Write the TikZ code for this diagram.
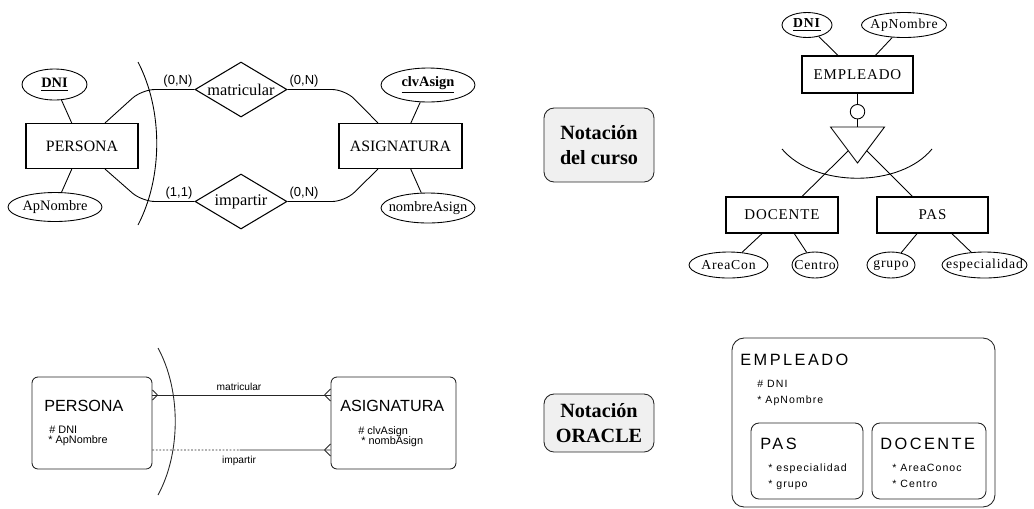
\documentclass[tikz,border=0pt]{standalone}
\usepackage{fontspec}
\setmainfont{Liberation Serif}
\setsansfont{Liberation Sans}
\newfontfamily\curfont[LetterSpace=6]{Liberation Serif}
\newfontfamily\oratit[LetterSpace=15]{Liberation Sans}
\newfontfamily\oraatr[LetterSpace=10]{Liberation Sans}
\usetikzlibrary{shapes.geometric,positioning,calc}
\newcommand\etq[1]{\makebox[0pt]{#1}}
\tikzset{
	% notacion del curso ---------------------------------------
	entidad/.style={draw, line width=0.6pt, inner sep=0pt, minimum height=0.9cm, font=\fontsize{9}{10}\selectfont},
	atributo/.style={draw, ellipse, line width=0.5pt, inner sep=0pt, font=\fontsize{8.2}{9}\selectfont},
	relacion/.style={draw, diamond, line width=0.6pt, inner sep=0pt, aspect=1.67, minimum width=1.84cm, minimum height=1.1cm, font=\fontsize{9.3}{10}\selectfont},
	card/.style={font=\sffamily\fontsize{7.4}{8}\selectfont, inner sep=1pt},
	entc/.style={draw, line width=0.6pt, inner sep=0pt, minimum height=0.74cm, font=\curfont\fontsize{8.5}{9}\selectfont},
	atrc/.style={draw, ellipse, line width=0.5pt, inner sep=0pt, minimum height=0.5cm, font=\curfont\fontsize{7.8}{9}\selectfont},
	lin/.style={line width=0.5pt},
	% notacion ORACLE ------------------------------------------
	caja/.style={draw=black!85, line width=0.5pt, rounded corners=0.12cm},
	linora/.style={draw=black!85, line width=0.5pt},
	tora/.style={anchor=base west, inner sep=0pt, font=\sffamily\fontsize{9.2}{10}\selectfont},
	aora/.style={anchor=base west, inner sep=0pt, font=\sffamily\fontsize{6.2}{7}\selectfont},
	lora/.style={inner sep=0pt, font=\sffamily\fontsize{5.8}{7}\selectfont},
	tsp/.style={anchor=base west, inner sep=0pt, font=\oratit\fontsize{9.3}{10}\selectfont},
	asp/.style={anchor=base west, inner sep=0pt, font=\oraatr\fontsize{6}{7}\selectfont},
	% rotulos ----------------------------------------------------
	nota/.style={draw=black!85, fill=black!6, line width=0.5pt, rounded corners=0.2cm, align=center, inner sep=0pt, font=\bfseries\fontsize{11.5}{14}\selectfont},
}
\begin{document}
\begin{tikzpicture}[x=0.02cm, y=-0.02cm]
	\useasboundingbox (0,0) rectangle (1034,508);

	% ---- notacion del curso: relaciones
	\node[entidad, minimum width=2.24cm] (pers) at (82,146) {PERSONA};
	\node[entidad, minimum width=2.46cm] (asig) at (400.5,146) {ASIGNATURA};
	\node[atributo, minimum width=1.3cm, minimum height=0.62cm] (dni) at (54.5,84.5) {\etq{\underline{\textbf{DNI}}}};
	\node[atributo, minimum width=1.88cm, minimum height=0.58cm] (apn) at (55,207) {\etq{ApNombre}};
	\node[atributo, minimum width=1.88cm, minimum height=0.68cm] (clv) at (428,85) {\etq{\underline{\textbf{clvAsign}}}};
	\node[atributo, minimum width=1.88cm, minimum height=0.6cm] (nom) at (428,208) {\etq{nombreAsign}};
	\node[relacion] (mat) at (241,89.5) {matricular};
	\node[relacion] (imp) at (241,201.5) {impartir};
	\node[card, anchor=south east] (c1) at (mat.west) {(0,N)};
	\node[card, anchor=south west] (c2) at (mat.east) {(0,N)};
	\node[card, anchor=south east] (c3) at (imp.west) {(1,1)};
	\node[card, anchor=south west] (c4) at (imp.east) {(0,N)};
	\draw[lin] (dni) -- (pers) (apn) -- (pers) (clv) -- (asig) (nom) -- (asig);
	\draw[lin, rounded corners=0.26cm] ($(pers.north)+(23,0)$) -- (142,89.5) -- (mat.west);
	\draw[lin, rounded corners=0.26cm] (mat.east) -- (345,89.5) -- ($(asig.north)+(-22.5,0)$);
	\draw[lin, rounded corners=0.26cm] ($(pers.south)+(23,0)$) -- (142,201.5) -- (imp.west);
	\draw[lin, rounded corners=0.26cm] (imp.east) -- (345,201.5) -- ($(asig.south)+(-22.5,0)$);
	\draw[lin] (138,62) .. controls (163,110) and (163,177) .. (138,225);

	% ---- notacion del curso: jerarquia
	\node[entc, minimum width=2.22cm] (emp) at (857.5,74.5) {EMPLEADO};
	\node[atrc, minimum width=1cm] (dni2) at (807,25) {\etq{\underline{\textbf{DNI}}}};
	\node[atrc, minimum width=1.7cm] (apn2) at (904,25) {\etq{ApNombre}};
	\node[draw, circle, lin, minimum size=0.29cm, inner sep=0pt] (disj) at (857.5,111.7) {};
	\coordinate (tl) at (830.5,127);
	\coordinate (tr) at (884.5,127);
	\coordinate (tb) at (857.5,163);
	\draw[lin] (tl) -- (tr) -- (tb) -- cycle;
	\node[entc, minimum width=2.24cm, minimum height=0.72cm] (doc) at (782,215) {DOCENTE};
	\node[entc, minimum width=2.22cm, minimum height=0.72cm] (pas) at (932.5,215) {PAS};
	\node[atrc, minimum width=1.58cm, minimum height=0.52cm] (area) at (728.5,265) {\etq{AreaCon}};
	\node[atrc, minimum width=0.92cm, minimum height=0.52cm] (cen) at (815,265) {\etq{Centro}};
	\node[atrc, minimum width=0.96cm, minimum height=0.52cm] (gru) at (891,265) {\etq{grupo}};
	\node[atrc, minimum width=1.7cm, minimum height=0.52cm] (esp) at (984.5,265) {\etq{especialidad}};
	\draw[lin] (dni2) -- (emp) (apn2) -- (emp);
	\draw[lin] (emp.south) -- (disj.north) (disj.south) -- ($(tl)!0.5!(tr)$);
	\draw[lin] ($(tl)!0.66!(tb)$) -- ($(doc.north)+(20,0)$);
	\draw[lin] ($(tr)!0.66!(tb)$) -- ($(pas.north)+(-20,0)$);
	\draw[lin] (782,149) .. controls (815,188) and (900,188) .. (932,149);
	\draw[lin] (area) -- (doc) (cen) -- (doc) (gru) -- (pas) (esp) -- (pas);

	% ---- rotulos
	\node[nota, minimum width=2.2cm, minimum height=1.48cm] (ncur) at (599,145) {Notación\\del curso};
	\node[nota, minimum width=2.2cm, minimum height=1.16cm] (nora) at (599,423) {Notación\\ORACLE};

	% ---- notacion ORACLE: relaciones
	\node[caja, minimum width=2.4cm, minimum height=1.84cm] (pers3) at (92,423) {};
	\node[caja, minimum width=2.5cm, minimum height=1.84cm] (asig3) at (393.5,423) {};
	\node[tora] (tper) at (44,411) {PERSONA};
	\node[aora] (adni) at (49,433) {\# DNI};
	\node[aora] (aapn) at (48,443) {* ApNombre};
	\node[tora] (tasi) at (340,411) {ASIGNATURA};
	\node[aora] (aclv) at (358,434) {\# clvAsign};
	\node[aora] (anom) at (361,444) {* nombAsign};
	\coordinate (m1) at ($(pers3.east)+(0,-28)$);
	\coordinate (m2) at ($(asig3.west)+(0,-28)$);
	\coordinate (i1) at ($(pers3.east)+(0,27)$);
	\coordinate (i2) at ($(asig3.west)+(0,27)$);
	\draw[linora] (m1) -- (m2);
	\draw[linora] ($(m1)+(5,0)$) -- ($(m1)+(0,-5)$) ($(m1)+(5,0)$) -- ($(m1)+(0,5)$);
	\draw[linora] ($(m2)+(-6,0)$) -- ($(m2)+(0,-6)$) ($(m2)+(-6,0)$) -- ($(m2)+(0,6)$);
	\draw[linora, dash pattern=on 1pt off 1pt] (i1) -- ($(i1)!0.49!(i2)$) coordinate (imid);
	\draw[linora] (imid) -- (i2);
	\draw[linora] ($(i2)+(-6,0)$) -- ($(i2)+(0,-6)$) ($(i2)+(-6,0)$) -- ($(i2)+(0,6)$);
	\node[lora] (lmat) at (239,387) {matricular};
	\node[lora] (limp) at (239,461) {impartir};
	\draw[linora] (158,348) .. controls (181,390) and (181,453) .. (158,495);

	% ---- notacion ORACLE: jerarquia
	\node[caja, rounded corners=0.24cm, minimum width=5.26cm, minimum height=3.38cm] (emp4) at (863.5,422.5) {};
	\node[caja, rounded corners=0.16cm, minimum width=2.24cm, minimum height=1.52cm] (pas4) at (807,461) {};
	\node[caja, rounded corners=0.16cm, minimum width=2.28cm, minimum height=1.52cm] (doc4) at (929,461) {};
	\node[tsp] (temp) at (740,365) {EMPLEADO};
	\node[asp] (edni) at (757,387) {\# DNI};
	\node[asp] (eapn) at (757,403) {* ApNombre};
	\node[tsp] (tpas) at (760,449) {PAS};
	\node[asp] (pesp) at (768,471) {* especialidad};
	\node[asp] (pgru) at (768,487) {* grupo};
	\node[tsp] (tdoc) at (880,449) {DOCENTE};
	\node[asp] (dare) at (892,471) {* AreaConoc};
	\node[asp] (dcen) at (892,487) {* Centro};
\end{tikzpicture}
\end{document}
